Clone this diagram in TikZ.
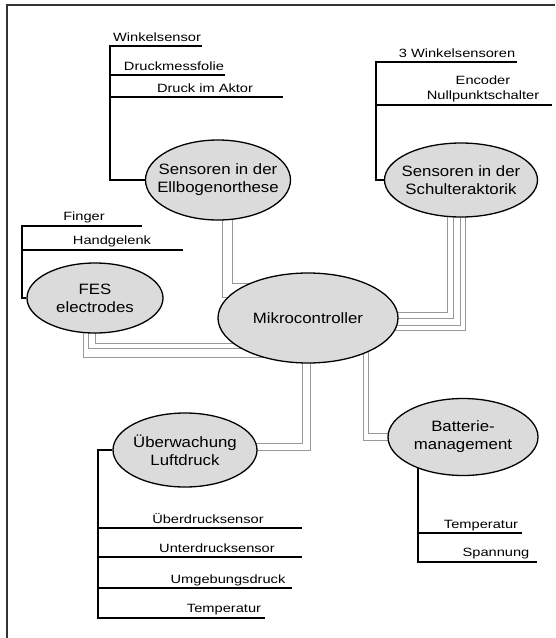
\documentclass[tikz,border=0pt]{standalone}
\usepackage{fontspec}
\setmainfont{Liberation Sans}
\newfontfamily\hubfont[FakeStretch=1.12]{Liberation Sans}
\newfontfamily\leaffont[FakeStretch=1.22]{Liberation Sans}
\usetikzlibrary{shapes.geometric, backgrounds}

\begin{document}
\begin{tikzpicture}[x=1pt, y=-1pt,
    hub/.style={draw, ellipse, line width=1.3pt, fill=black!14, minimum height=76pt, inner xsep=-12pt, inner ysep=0pt, align=center, font=\hubfont\fontsize{15}{18}\selectfont},
    leaf/.style={anchor=base, inner sep=0pt, align=center, font=\leaffont\fontsize{12}{15}\selectfont},
    branch/.style={line width=1.6pt},
    bus/.style={draw=black!40, line width=0.7pt}]

\useasboundingbox (0,0) rectangle (555,638);
\draw[line width=1.2pt, black!80] (7,638) -- (7,5) -- (555,5);

% main blocks
\node[hub, minimum width=145pt, minimum height=80pt] (elbow) at (218,180) {Sensoren in der\\Ellbogenorthese};
\node[hub, minimum width=153pt, minimum height=74pt] (shoulder) at (461,180) {Sensoren in der\\Schulteraktorik};
\node[hub, minimum width=136pt, minimum height=70pt] (fes) at (95,298) {FES\\electrodes};
\node[hub, minimum width=180pt, minimum height=90pt] (mikro) at (308,318) {Mikrocontroller};
\node[hub, minimum width=144pt, minimum height=74pt] (luft) at (185,450) {Überwachung\\Luftdruck};
\node[hub, minimum width=150pt, minimum height=77pt] (batt) at (463,437) {Batterie-\\management};

% cables to the controller
\begin{scope}[on background layer]
\draw[bus] ([xshift=4pt]elbow.center) |- ([yshift=21pt]mikro.center);
\draw[bus] ([xshift=14pt]elbow.center) |- ([yshift=35pt]mikro.center);
\draw[bus] ([xshift=-14pt]shoulder.center) |- ([yshift=6pt]mikro.center);
\draw[bus] ([xshift=-8pt]shoulder.center) |- (mikro.center);
\draw[bus] ([xshift=-1pt]shoulder.center) |- ([yshift=-7pt]mikro.center);
\draw[bus] ([xshift=4pt]shoulder.center) |- ([yshift=-12pt]mikro.center);
\draw[bus] ([xshift=-12pt]fes.center) |- ([yshift=-39pt]mikro.center);
\draw[bus] ([xshift=-7pt]fes.center) |- ([yshift=-30pt]mikro.center);
\draw[bus] (fes.center) |- ([yshift=-25pt]mikro.center);
\draw[bus] ([xshift=-6pt]mikro.center) |- ([yshift=7pt]luft.center);
\draw[bus] ([xshift=2pt]mikro.center) |- (luft.center);
\draw[bus] ([xshift=55pt]mikro.center) |- ([yshift=-3pt]batt.center);
\draw[bus] ([xshift=60pt]mikro.center) |- ([yshift=4pt]batt.center);
\end{scope}

% elbow sensors
\coordinate (ebspine) at (110,0);
\coordinate (eb1) at (202,46);
\coordinate (eb2) at (225,75);
\coordinate (eb3) at (283,97);
\draw[branch] (elbow.west) -| (eb1 -| ebspine) -- (eb1);
\draw[branch] (eb2 -| ebspine) -- (eb2);
\draw[branch] (eb3 -| ebspine) -- (eb3);
\node[leaf] (winkel) at (157,41) {Winkelsensor};
\node[leaf] (folie) at (174,70) {Druckmessfolie};
\node[leaf] (aktor) at (205,92) {Druck im Aktor};

% shoulder sensors
\coordinate (shspine) at (376,0);
\coordinate (sh1) at (517,62);
\coordinate (sh2) at (552,105);
\draw[branch] (shoulder.west) -| (sh1 -| shspine) -- (sh1);
\draw[branch] (sh2 -| shspine) -- (sh2);
\node[leaf] (winkel3) at (457,57) {3 Winkelsensoren};
\node[leaf, anchor=south, inner sep=0.5pt] (encoder) at (483,103) {Encoder\\Nullpunktschalter};

% electrodes
\coordinate (fsspine) at (22,0);
\coordinate (fs1) at (142,226);
\coordinate (fs2) at (183,250);
\draw[branch] (fes.west) -| (fs1 -| fsspine) -- (fs1);
\draw[branch] (fs2 -| fsspine) -- (fs2);
\node[leaf] (finger) at (84,220) {Finger};
\node[leaf] (hand) at (112,244) {Handgelenk};

% air pressure
\coordinate (lfspine) at (98,0);
\coordinate (lf1) at (302,528);
\coordinate (lf2) at (302,557);
\coordinate (lf3) at (292,588);
\coordinate (lf4) at (265,618);
\draw[branch] (luft.west) -| (lf4 -| lfspine) -- (lf4);
\draw[branch] (lf1 -| lfspine) -- (lf1);
\draw[branch] (lf2 -| lfspine) -- (lf2);
\draw[branch] (lf3 -| lfspine) -- (lf3);
\node[leaf] (ueber) at (208,523) {Überdrucksensor};
\node[leaf] (unter) at (217,552) {Unterdrucksensor};
\node[leaf] (umgeb) at (228,583) {Umgebungsdruck};
\node[leaf] (temp) at (224,612) {Temperatur};

% battery
\coordinate (bt1) at (522,533);
\coordinate (bt2) at (537,562);
\draw[branch] (batt.215) -- (batt.215 |- bt2) -- (bt2);
\draw[branch] (batt.215 |- bt1) -- (bt1);
\node[leaf] (btemp) at (481,528) {Temperatur};
\node[leaf] (spann) at (496,556) {Spannung};
\end{tikzpicture}
\end{document}
